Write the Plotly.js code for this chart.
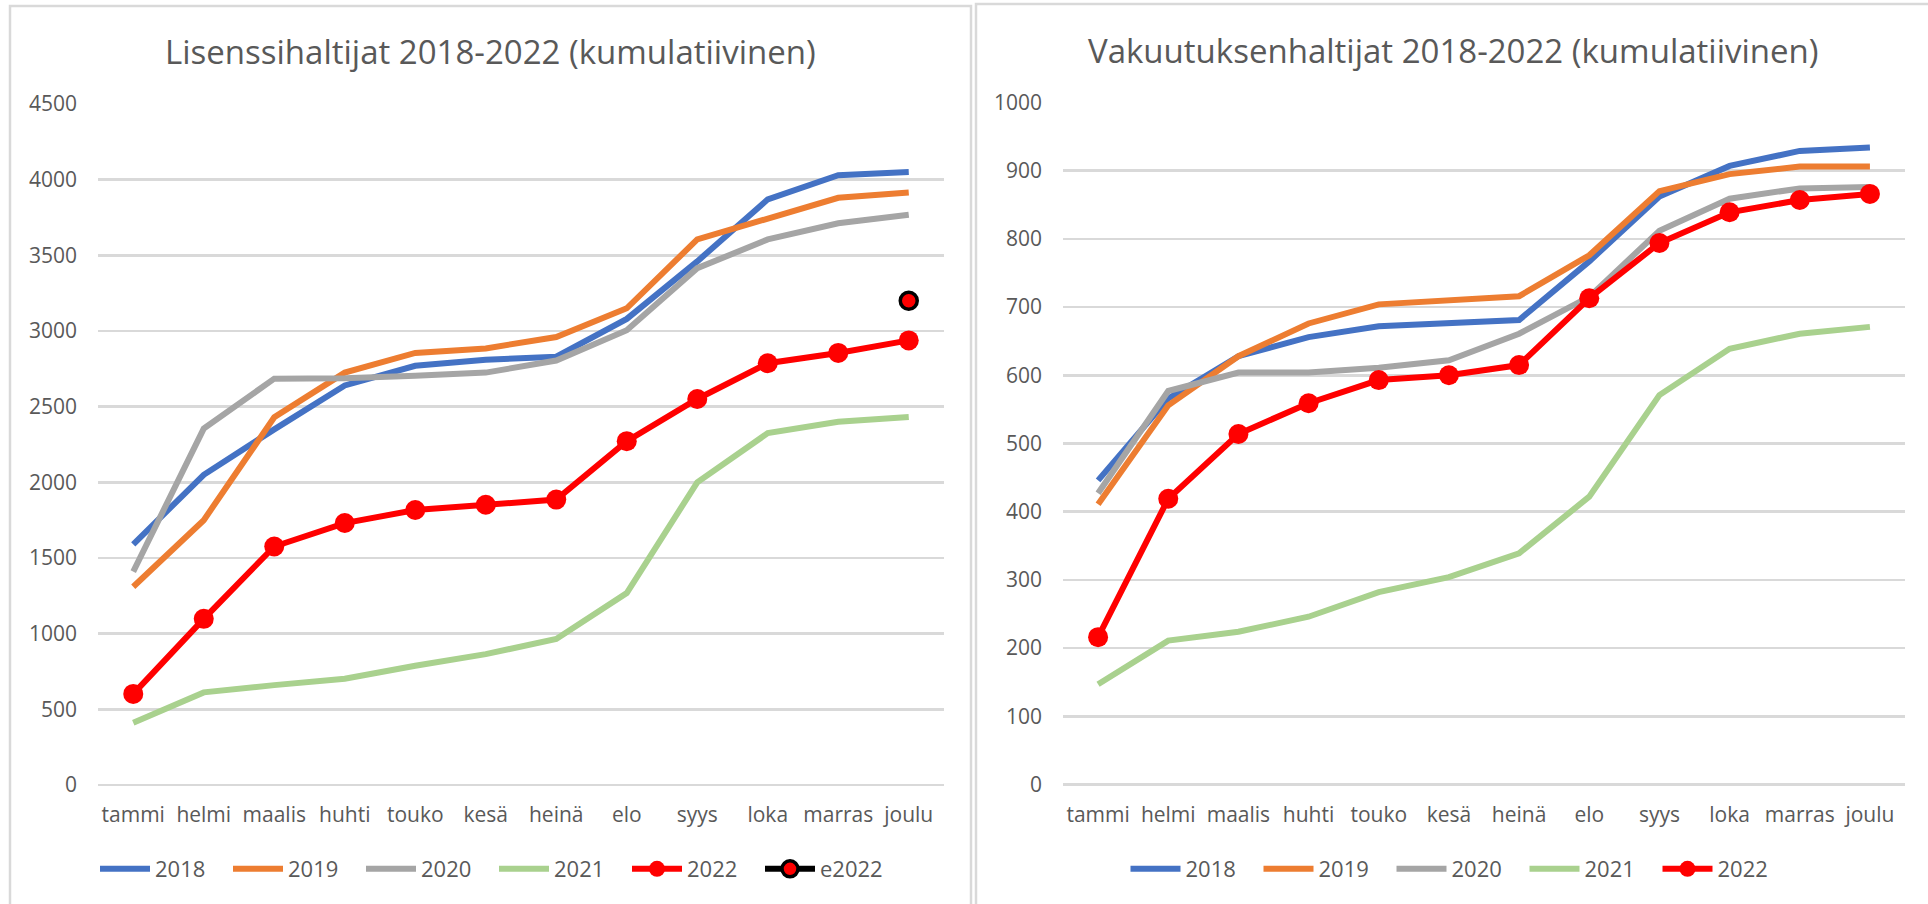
<!DOCTYPE html>
<html>
<head>
<meta charset="utf-8">
<script src="https://cdn.plot.ly/plotly-3.0.1.min.js"></script>
<style>
  html, body { margin: 0; padding: 0; background: #ffffff; }
  #chart { width: 1928px; height: 904px; }
</style>
</head>
<body>
<div id="chart"></div>
<script>
// Categories (months, Finnish)
const months = ["tammi", "helmi", "maalis", "huhti", "touko", "kesä", "heinä", "elo", "syys", "loka", "marras", "joulu"];

// Left chart: Lisenssihaltijat (cumulative)
const lic2018 = [1590, 2050, 2350, 2640, 2770, 2810, 2830, 3080, 3460, 3870, 4030, 4050];
const lic2019 = [1310, 1750, 2430, 2725, 2855, 2885, 2960, 3150, 3605, 3740, 3880, 3915];
const lic2020 = [1410, 2355, 2685, 2688, 2705, 2725, 2805, 3005, 3415, 3605, 3712, 3768];
const lic2021 = [412, 612, 660, 702, 788, 865, 965, 1268, 2000, 2325, 2400, 2432];
const lic2022 = [602, 1098, 1576, 1731, 1817, 1852, 1886, 2272, 2551, 2787, 2855, 2938];
const licE2022 = [null, null, null, null, null, null, null, null, null, null, null, 3200];

// Right chart: Vakuutuksenhaltijat (cumulative)
const ins2018 = [446, 566, 628, 656, 672, 676, 681, 767, 862, 907, 929, 934];
const ins2019 = [411, 556, 628, 676, 704, 710, 716, 776, 870, 895, 906, 906];
const ins2020 = [427, 577, 604, 604, 611, 622, 661, 715, 812, 859, 874, 876];
const ins2021 = [147, 211, 224, 246, 282, 304, 339, 422, 571, 639, 661, 671];
const ins2022 = [216, 419, 514, 559, 593, 600, 615, 713, 794, 839, 857, 866];

const seriesNames = ["2018", "2019", "2020", "2021", "2022"];
const colors = ["#4472C4", "#ED7D31", "#A5A5A5", "#A9D18E", "#FF0000"];

const textGray = "#595959";
const gridGray = "#D9D9D9";
const fontFam = "'Open Sans', 'Noto Sans', sans-serif";

function lineTrace(y, i, xa, ya, leg) {
  const isRed = i === 4;
  const t = {
    x: months, y: y, type: "scatter",
    mode: isRed ? "lines+markers" : "lines",
    name: seriesNames[i],
    xaxis: xa, yaxis: ya, legend: leg,
    line: { color: colors[i], width: 6 },
    hoverinfo: "x+y+name"
  };
  if (isRed) t.marker = { color: colors[i], size: 20 };
  return t;
}

const leftSets = [lic2018, lic2019, lic2020, lic2021, lic2022];
const rightSets = [ins2018, ins2019, ins2020, ins2021, ins2022];

const traces = [];
leftSets.forEach((s, i) => traces.push(lineTrace(s, i, "x", "y", "legend")));
traces.push({
  x: months, y: licE2022, type: "scatter", mode: "lines+markers",
  name: "e2022", xaxis: "x", yaxis: "y", legend: "legend",
  line: { color: "#000000", width: 6 },
  marker: { color: "#FF0000", size: 17, line: { color: "#000000", width: 3.5 } }
});
rightSets.forEach((s, i) => traces.push(lineTrace(s, i, "x2", "y2", "legend2")));

const W = 1928, H = 904;
const px = v => v / W;
const py = v => 1 - v / H;

const xBase = {
  type: "category", range: [-0.5, 11.5], showgrid: false, zeroline: false,
  showline: false, ticks: "", ticklabelstandoff: 15,
  tickfont: { family: fontFam, size: 21, color: textGray }, fixedrange: true
};
const yBase = {
  showgrid: true, gridcolor: gridGray, gridwidth: 2.5, zeroline: true,
  zerolinecolor: gridGray, zerolinewidth: 2.5, showline: false, ticks: "",
  ticklabelstandoff: 20, tickfont: { family: fontFam, size: 21, color: textGray },
  fixedrange: true
};

const legendBase = {
  orientation: "h", yanchor: "middle", xanchor: "center", y: py(869),
  font: { family: fontFam, size: 22, color: textGray },
  bgcolor: "rgba(0,0,0,0)", itemwidth: 50, tracegroupgap: 0,
  entrywidth: 68, entrywidthmode: "pixels"
};

const layout = {
  width: W, height: H,
  margin: { l: 0, r: 0, t: 0, b: 0 },
  paper_bgcolor: "#ffffff", plot_bgcolor: "#ffffff",
  showlegend: true,
  xaxis: Object.assign({}, xBase, { domain: [px(98), px(944)], anchor: "y" }),
  yaxis: Object.assign({}, yBase, { domain: [py(785), py(104)], range: [0, 4500], dtick: 500, anchor: "x" }),
  xaxis2: Object.assign({}, xBase, { domain: [px(1063), px(1905)], anchor: "y2" }),
  yaxis2: Object.assign({}, yBase, { domain: [py(784.5), py(102.5)], range: [0, 1000], dtick: 100, anchor: "x2" }),
  legend: Object.assign({}, legendBase, { x: px(494) }),
  legend2: Object.assign({}, legendBase, { x: px(1458) }),
  annotations: [
    { text: "Lisenssihaltijat 2018-2022 (kumulatiivinen)", xref: "paper", yref: "paper",
      x: px(491), y: py(52), xanchor: "center", yanchor: "middle", showarrow: false,
      font: { family: fontFam, size: 33, color: textGray } },
    { text: "Vakuutuksenhaltijat 2018-2022 (kumulatiivinen)", xref: "paper", yref: "paper",
      x: px(1453), y: py(50), xanchor: "center", yanchor: "middle", showarrow: false,
      font: { family: fontFam, size: 33, color: textGray } }
  ],
  shapes: [
    { type: "rect", xref: "paper", yref: "paper", x0: px(10), x1: px(971), y0: py(920), y1: py(6),
      line: { color: "#D9D9D9", width: 2.5 }, fillcolor: "rgba(0,0,0,0)", layer: "below" },
    { type: "rect", xref: "paper", yref: "paper", x0: px(976), x1: px(1940), y0: py(920), y1: py(4),
      line: { color: "#D9D9D9", width: 2.5 }, fillcolor: "rgba(0,0,0,0)", layer: "below" }
  ]
};

Plotly.newPlot("chart", traces, layout, { displayModeBar: false, staticPlot: true });
</script>
</body>
</html>
